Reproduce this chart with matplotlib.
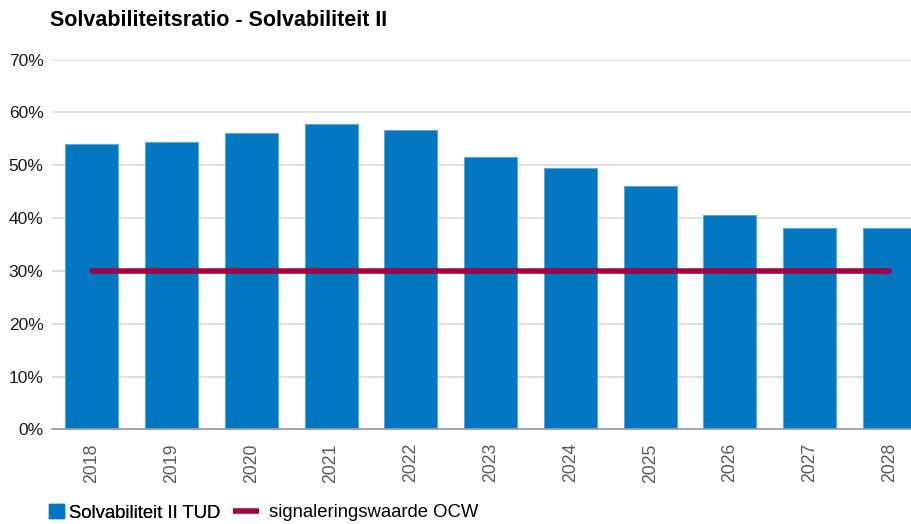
import matplotlib.pyplot as plt
from matplotlib.lines import Line2D
from matplotlib.patches import Patch

years = ["2018", "2019", "2020", "2021", "2022", "2023", "2024", "2025", "2026", "2027", "2028"]
solvabiliteit = [54.0, 54.5, 56.2, 57.9, 56.6, 51.6, 49.5, 46.0, 40.6, 38.1, 38.1]
signaleringswaarde = [30] * len(years)

BAR_COLOR = "#0077c0"
LINE_COLOR = "#a5003f"

plt.rcParams["font.family"] = ["Liberation Sans", "DejaVu Sans"]

fig = plt.figure(figsize=(9.11, 5.24), dpi=100)
ax = fig.add_axes([0.057, 0.1807, 0.943, 0.7054])

x = list(range(len(years)))
ax.bar(x, solvabiliteit, width=0.665, color=BAR_COLOR, edgecolor="#5aa9dc", linewidth=0.8, zorder=2)
ax.plot(x, signaleringswaarde, color=LINE_COLOR, linewidth=4, solid_capstyle="round", zorder=3)

ax.set_xlim(-0.5, 10.27)
ax.set_ylim(0, 70)
ax.set_yticks(range(0, 71, 10))
ax.set_yticklabels([f"{v}%" for v in range(0, 71, 10)], fontsize=12.5, color="#1a1a1a")
ax.set_xticks(x)
ax.set_xticklabels(years, rotation=90, fontsize=12.7, color="#595959")
ax.tick_params(axis="both", length=0)
ax.tick_params(axis="x", pad=10)
ax.tick_params(axis="y", pad=6)

ax.grid(axis="y", color="#d9d9d9", linewidth=1.2, zorder=0)
for side in ["top", "right", "left"]:
    ax.spines[side].set_visible(False)
ax.spines["bottom"].set_color("#999999")
ax.spines["bottom"].set_linewidth(1.2)
ax.spines["bottom"].set_zorder(4)

fig.text(0.0549, 0.960, "Solvabiliteitsratio - Solvabiliteit II", fontsize=15.5,
         fontweight="bold", va="center", ha="left")

leg1 = fig.legend(handles=[Patch(facecolor=BAR_COLOR, edgecolor=BAR_COLOR)],
                  labels=["Solvabiliteit II TUD"], loc="center left",
                  bbox_to_anchor=(0.0538, 0.021), frameon=False, fontsize=13.3,
                  handlelength=0.8, handleheight=0.8, handletextpad=0.3,
                  borderaxespad=0, borderpad=0)
fig.legend(handles=[Line2D([0], [0], color=LINE_COLOR, linewidth=4, solid_capstyle="butt")],
           labels=["signaleringswaarde OCW"], loc="center left",
           bbox_to_anchor=(0.2558, 0.021), frameon=False, fontsize=13.3,
           handlelength=1.4, handletextpad=0.55, borderaxespad=0, borderpad=0)
fig.add_artist(leg1)

fig.savefig("out.png", dpi=100)
